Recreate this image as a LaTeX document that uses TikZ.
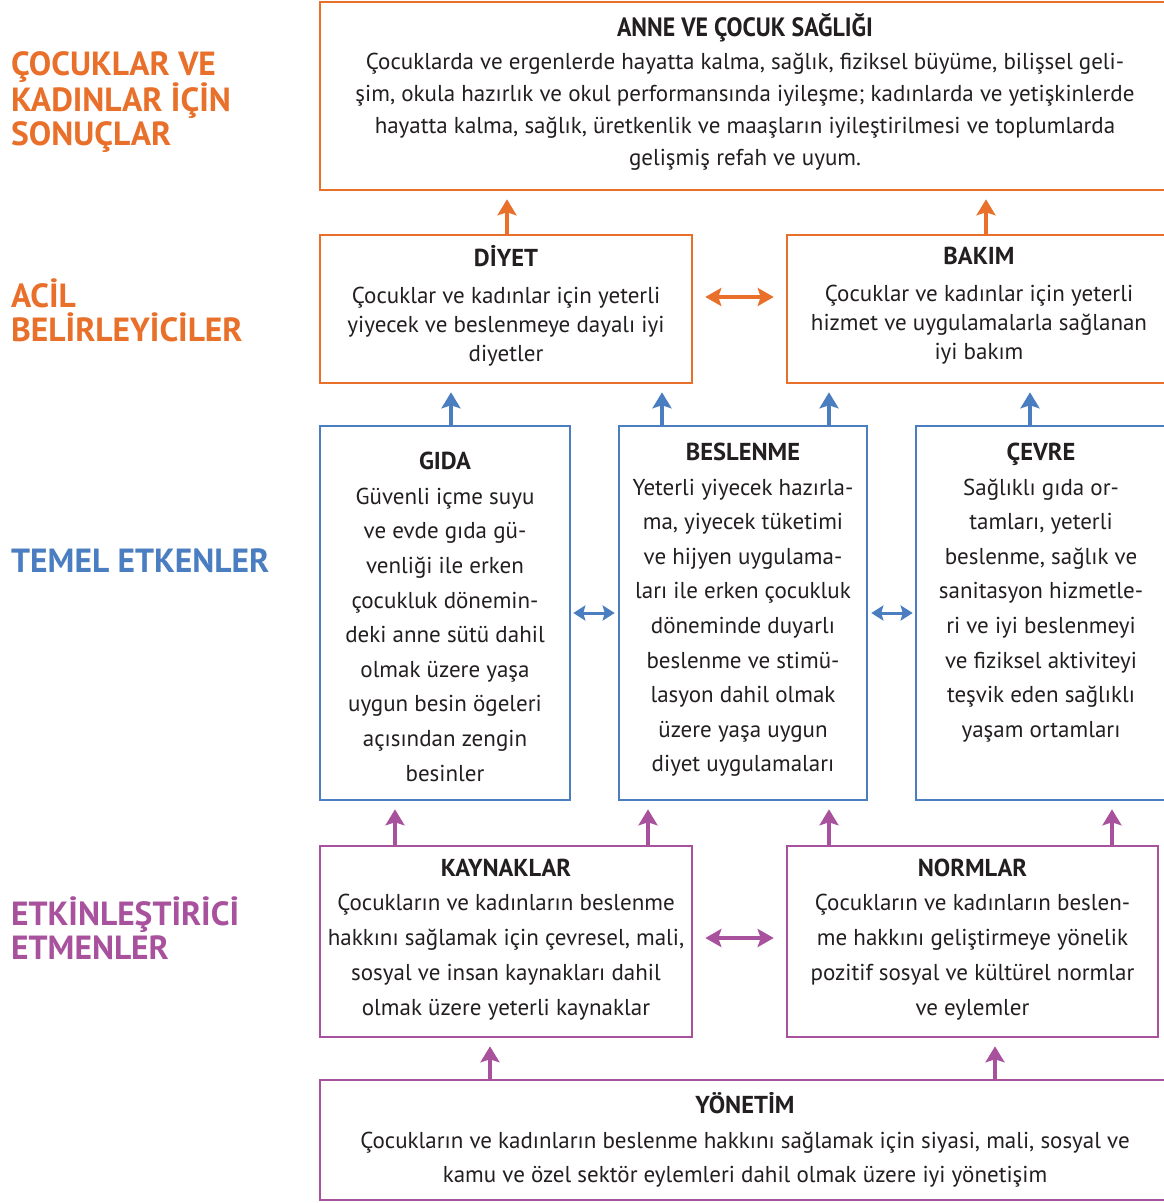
\documentclass[tikz,border=0pt]{standalone}
\usepackage{fontspec}
\setmainfont{PT Sans}
\newfontfamily\condfont[FakeStretch=0.9]{PT Sans}
\usetikzlibrary{arrows.meta}
\definecolor{corange}{RGB}{232,112,42}
\definecolor{cblue}{RGB}{74,126,193}
\definecolor{cpurple}{RGB}{168,82,158}
\definecolor{ctext}{RGB}{35,31,32}
\newcommand{\ttlfont}[1]{{\fontsize{24.5}{29}\selectfont\bfseries #1}}
\newcommand{\dep}[1]{\rule[-#1pt]{0pt}{1pt}}
\tikzset{
  box/.style={draw, line width=2.6pt, inner sep=0pt, align=center, text=ctext},
  upA/.style={line width=4.2pt, -{Stealth[length=16pt,width=19pt,inset=3pt]}, shorten >=8pt},
  dblA/.style={line width=4pt, {Stealth[length=16pt,width=18pt,inset=3pt]}-{Stealth[length=16pt,width=18pt,inset=3pt]}},
  dblB/.style={line width=3pt, {Stealth[length=12pt,width=15pt,inset=2pt]}-{Stealth[length=12pt,width=15pt,inset=2pt]}},
  lbl/.style={anchor=west, inner sep=0pt, align=left, font=\fontsize{33.5}{34}\selectfont\bfseries},
}
\begin{document}
\begin{tikzpicture}[x=1pt,y=-1pt]
\path[use as bounding box] (0,0) rectangle (1164,1203);
\clip (0,0) rectangle (1164,1203);
\fill[white] (0,0) rectangle (1164,1203);

% left labels
\node[lbl, text=corange] (l1) at (11,102) {ÇOCUKLAR VE\\KADINLAR İÇİN\\SONUÇLAR};
\node[lbl, text=corange] (l2) at (11,310) {ACİL\\BELİRLEYİCİLER};
\node[lbl, text=cblue] (l3) at (11,561) {TEMEL ETKENLER};
\node[lbl, text=cpurple] (l4) at (11,928) {ETKİNLEŞTİRİCİ\\ETMENLER};

% top box
\node[box, draw=corange, minimum width=850pt, minimum height=188pt,
  font=\fontsize{23}{32}\selectfont] (top) at (745,96)
  {{\fontsize{26.5}{30}\selectfont\condfont\bfseries ANNE VE ÇOCUK SAĞLIĞI}\\[1pt]
   Çocuklarda ve ergenlerde hayatta kalma, sağlık, fiziksel büyüme, bilişsel geli-\\
   şim, okula hazırlık ve okul performansında iyileşme; kadınlarda ve yetişkinlerde\\
   hayatta kalma, sağlık, üretkenlik ve maaşların iyileştirilmesi ve toplumlarda\\
   gelişmiş refah ve uyum.\dep{13}};

% immediate determinants
\node[box, draw=corange, minimum width=372pt, minimum height=148pt,
  font=\fontsize{23}{29}\selectfont] (diyet) at (506,309)
  {\ttlfont{DİYET}\\[8pt]
   Çocuklar ve kadınlar için yeterli\\
   yiyecek ve beslenmeye dayalı iyi\\
   diyetler\dep{11}};
\node[box, draw=corange, minimum width=384pt, minimum height=148pt,
  font=\fontsize{23}{29}\selectfont] (bakim) at (979,309)
  {\ttlfont{BAKIM}\\[8pt]
   Çocuklar ve kadınlar için yeterli\\
   hizmet ve uygulamalarla sağlanan\\
   iyi bakım\dep{11}};

% underlying determinants
\node[box, draw=cblue, minimum width=250pt, minimum height=374pt,
  font=\fontsize{23}{34.6}\selectfont] (gida) at (445,613)
  {\rule{0pt}{25pt}\ttlfont{GIDA}\\
   Güvenli içme suyu\\
   ve evde gıda gü-\\
   venliği ile erken\\
   çocukluk dönemin-\\
   deki anne sütü dahil\\
   olmak üzere yaşa\\
   uygun besin ögeleri\\
   açısından zengin\\
   besinler};
\node[box, draw=cblue, minimum width=248pt, minimum height=374pt,
  font=\fontsize{23}{34.6}\selectfont] (besl) at (743,613)
  {\ttlfont{BESLENME}\\
   Yeterli yiyecek hazırla-\\
   ma, yiyecek tüketimi\\
   ve hijyen uygulama-\\
   ları ile erken çocukluk\\
   döneminde duyarlı\\
   beslenme ve stimü-\\
   lasyon dahil olmak\\
   üzere yaşa uygun\\
   diyet uygulamaları\dep{11}};
\node[box, draw=cblue, minimum width=250pt, minimum height=374pt,
  font=\fontsize{23}{34.6}\selectfont] (cevre) at (1041,613)
  {\ttlfont{ÇEVRE}\\
   Sağlıklı gıda or-\\
   tamları, yeterli\\
   beslenme, sağlık ve\\
   sanitasyon hizmetle-\\
   ri ve iyi beslenmeyi\\
   ve fiziksel aktiviteyi\\
   teşvik eden sağlıklı\\
   yaşam ortamları\\
   \dep{11}};

% enabling determinants
\node[box, draw=cpurple, minimum width=372pt, minimum height=191pt,
  font=\fontsize{23}{34.8}\selectfont] (kayn) at (506,941.5)
  {\ttlfont{KAYNAKLAR}\\
   Çocukların ve kadınların beslenme\\
   hakkını sağlamak için çevresel, mali,\\
   sosyal ve insan kaynakları dahil\\
   olmak üzere yeterli kaynaklar\dep{9}};
\node[box, draw=cpurple, minimum width=371pt, minimum height=191pt,
  font=\fontsize{23}{34.8}\selectfont] (norm) at (972.5,941.5)
  {\ttlfont{NORMLAR}\\
   Çocukların ve kadınların beslen-\\
   me hakkını geliştirmeye yönelik\\
   pozitif sosyal ve kültürel normlar\\
   ve eylemler\dep{9}};
\node[box, draw=cpurple, minimum width=850pt, minimum height=120pt,
  font=\fontsize{23}{34.8}\selectfont] (yon) at (745,1140)
  {\ttlfont{YÖNETİM}\\
   Çocukların ve kadınların beslenme hakkını sağlamak için siyasi, mali, sosyal ve\\
   kamu ve özel sektör eylemleri dahil olmak üzere iyi yönetişim};

% orange arrows
\draw[upA, corange] ([xshift=1pt]diyet.north) -- ([xshift=1pt]diyet.north |- top.south);
\draw[upA, corange] ([xshift=7pt]bakim.north) -- ([xshift=7pt]bakim.north |- top.south);
\draw[dblA, corange] ([yshift=12pt,xshift=12pt]diyet.east) -- ([yshift=12pt,xshift=-12pt]bakim.west |- diyet.east);

% blue arrows
\draw[upA, cblue] ([xshift=6pt]gida.north) -- ([xshift=6pt]gida.north |- diyet.south);
\draw[upA, cblue] ([xshift=-81pt]besl.north) -- ([xshift=-81pt]besl.north |- diyet.south);
\draw[upA, cblue] ([xshift=86pt]besl.north) -- ([xshift=86pt]besl.north |- bakim.south);
\draw[upA, cblue] ([xshift=-11pt]cevre.north) -- ([xshift=-11pt]cevre.north |- bakim.south);
\draw[dblB, cblue] ([xshift=2pt]gida.east) -- ([xshift=-3pt]besl.west);
\draw[dblB, cblue] ([xshift=3pt]besl.east) -- ([xshift=-2pt]cevre.west);

% purple arrows
\draw[upA, cpurple] ([xshift=-111pt]kayn.north) -- ([xshift=-111pt]kayn.north |- gida.south);
\draw[upA, cpurple] ([xshift=142pt]kayn.north) -- ([xshift=142pt]kayn.north |- besl.south);
\draw[upA, cpurple] ([xshift=-143.5pt]norm.north) -- ([xshift=-143.5pt]norm.north |- besl.south);
\draw[upA, cpurple] ([xshift=139.5pt]norm.north) -- ([xshift=139.5pt]norm.north |- cevre.south);
\draw[dblA, cpurple] ([yshift=3.5pt,xshift=12pt]kayn.east) -- ([yshift=3.5pt,xshift=-12pt]norm.west |- kayn.east);
\draw[upA, cpurple] ([xshift=-255pt]yon.north) -- ([xshift=-255pt]yon.north |- kayn.south);
\draw[upA, cpurple] ([xshift=250pt]yon.north) -- ([xshift=250pt]yon.north |- norm.south);
\end{tikzpicture}
\end{document}
